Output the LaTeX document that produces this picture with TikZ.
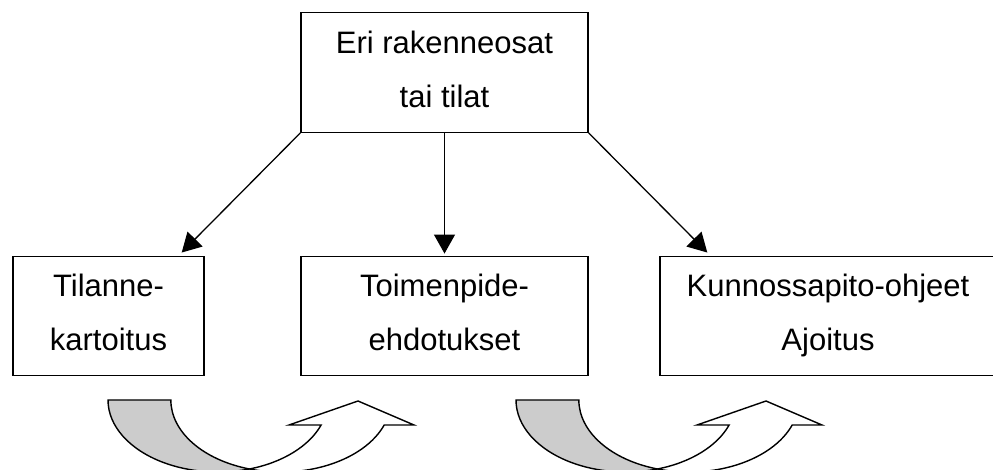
\documentclass[tikz,border=0pt]{standalone}
\usepackage{fontspec}
\setmainfont{Liberation Sans}
\usetikzlibrary{arrows.meta}
\definecolor{bandgray}{RGB}{204,204,204}
\begin{document}
\begin{tikzpicture}[x=1pt,y=1pt,
  box/.style={draw, line width=1.4pt, minimum height=119.5pt, inner sep=0pt},
  txt/.style={font=\fontsize{31}{37}\selectfont, anchor=base, inner sep=0pt},
  conn/.style={line width=1.3pt, -{Triangle[length=19pt,width=21pt]}},
  backband/.style={draw, line width=1.4pt, fill=bandgray, line join=miter},
  frontband/.style={draw, line width=1.4pt, fill=white, line join=miter}]
\clip (0,0) rectangle (993,470);
% boxes
\node[box, minimum width=287pt] (top) at (444.5,397.5) {};
\node[box, minimum width=191pt] (b1) at (108.5,154) {};
\node[box, minimum width=287pt] (b2) at (444.5,154) {};
\node[box, minimum width=336pt] (b3) at (828,154) {};
% texts
\node[txt] (t1) at (top.center |- 0,416) {Eri rakenneosat};
\node[txt] (t2) at (top.center |- 0,362) {tai tilat};
\node[txt] (b1a) at (b1.center |- 0,173) {Tilanne-};
\node[txt] (b1b) at (b1.center |- 0,119) {kartoitus};
\node[txt] (b2a) at (b2.center |- 0,173) {Toimenpide-};
\node[txt] (b2b) at (b2.center |- 0,119) {ehdotukset};
\node[txt] (b3a) at (b3.center |- 0,173) {Kunnossapito-ohjeet};
\node[txt] (b3b) at (b3.center |- 0,119) {Ajoitus};
% connectors
\coordinate (e1) at ([xshift=-23pt,yshift=3pt]b1.north east);
\coordinate (e2) at ([yshift=2pt]b2.north);
\coordinate (e3) at ([xshift=48pt,yshift=3pt]b3.north west);
\draw[conn] (top.south west) -- (e1);
\draw[conn] (top.south) -- (e2);
\draw[conn] (top.south east) -- (e3);
% curved up arrows
\foreach \dx in {0,408}{
  \begin{scope}[shift={(\dx,0)}]
    \draw[backband] (108,70) arc[start angle=180, end angle=286.6, x radius=110pt, y radius=72pt]
      arc[start angle=253.4, end angle=180, x radius=110pt, y radius=72pt] -- cycle;
    \draw[frontband] (249.4,1.0) arc[start angle=286.6, end angle=339.7, x radius=110pt, y radius=72pt]
      -- (289,45) -- (358,69) -- (414,45) -- (384.2,45)
      arc[start angle=339.7, end angle=253.4, x radius=110pt, y radius=72pt] -- cycle;
  \end{scope}
}
\end{tikzpicture}
\end{document}
